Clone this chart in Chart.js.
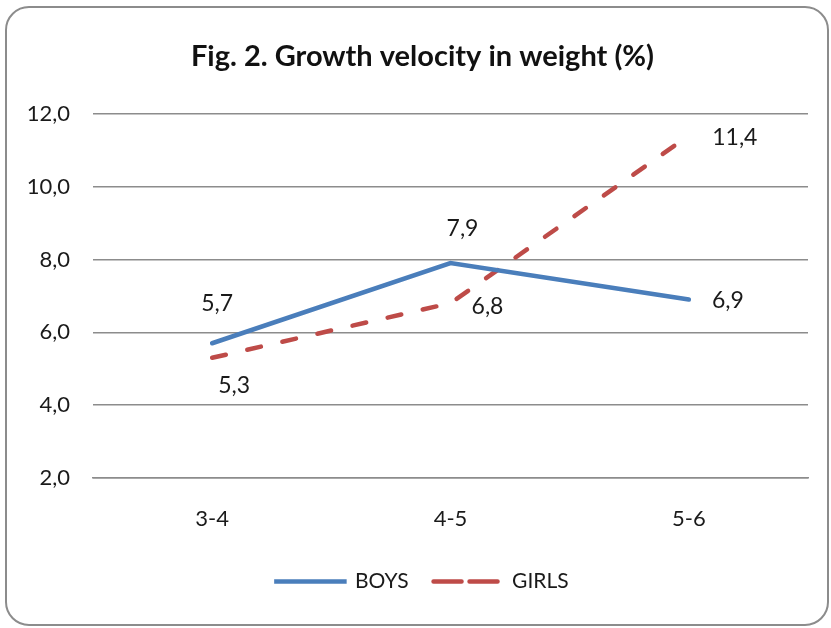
<!DOCTYPE html>
<html>
<head>
<meta charset="utf-8">
<script src="https://cdn.jsdelivr.net/npm/chart.js@4"></script>
<style>
  html, body { margin: 0; padding: 0; background: #fff; }
  #wrap { position: relative; width: 831px; height: 628px; }
  #frame {
    position: absolute; left: 5px; top: 6px; width: 820px; height: 616px;
    border: 2px solid #8c8c8c; border-radius: 24px; pointer-events: none;
  }
  canvas { position: absolute; left: 0; top: 0; }
</style>
</head>
<body>
<div id="wrap">
  <canvas id="growthChart" width="831" height="628"></canvas>
  <div id="frame"></div>
</div>
<script>
// Chart data
const categories = ['3-4', '4-5', '5-6'];
const boys = [5.7, 7.9, 6.9];
const girls = [5.3, 6.8, 11.4];
const yTicks = [2, 4, 6, 8, 10, 12];

const FONT = 'Lato, "Open Sans", sans-serif';

// simple value labels, offsets picked to sit where the original puts them
const valueLabels = {
  id: 'valueLabels',
  afterDatasetsDraw(chart, args, opts) {
    const ctx = chart.ctx;
    ctx.save();
    ctx.font = '23px ' + FONT;
    ctx.fillStyle = '#1a1a1a';
    ctx.textAlign = 'center';
    ctx.textBaseline = 'middle';
    chart.data.datasets.forEach((ds, i) => {
      const meta = chart.getDatasetMeta(i);
      meta.data.forEach((pt, j) => {
        const off = opts.offsets[i][j];
        ctx.fillText(ds.data[j].toFixed(1).replace('.', ','), pt.x + off[0], pt.y + off[1]);
      });
    });
    ctx.restore();
  }
};

const ctx = document.getElementById('growthChart').getContext('2d');
new Chart(ctx, {
  type: 'line',
  data: {
    labels: categories,
    datasets: [
      {
        label: 'BOYS',
        data: boys,
        borderColor: '#4a7ebb',
        backgroundColor: '#4a7ebb',
        borderWidth: 4.5,
        borderCapStyle: 'round',
        pointRadius: 0,
        tension: 0
      },
      {
        label: 'GIRLS',
        data: girls,
        borderColor: '#be4b48',
        backgroundColor: '#be4b48',
        borderWidth: 4.5,
        borderDash: [14, 22],
        borderCapStyle: 'round',
        pointRadius: 0,
        tension: 0
      }
    ]
  },
  options: {
    responsive: false,
    animation: false,
    layout: { padding: { left: 14, right: 0, top: 0, bottom: 26 } },
    plugins: {
      title: {
        display: true,
        text: 'Fig. 2. Growth velocity in weight (%)',
        color: '#111',
        font: { family: FONT, size: 29, weight: 'bold' },
        padding: { top: 39, bottom: 40 }
      },
      legend: {
        position: 'bottom',
        labels: {
          color: '#1a1a1a',
          font: { family: FONT, size: 21 },
          boxWidth: 68,
          boxHeight: 0.001,
          padding: 25,
          generateLabels: chart => Chart.defaults.plugins.legend.labels.generateLabels(chart)
            .map(item => Object.assign(item, { fillStyle: 'rgba(0,0,0,0)' }))
        }
      },
      tooltip: { enabled: false },
      valueLabels: {
        offsets: [
          [[5, -40], [12, -35], [39, 1]],
          [[22, 28], [37, 3], [46, 2]]
        ]
      }
    },
    scales: {
      x: {
        offset: true,
        afterFit: s => { s.height = 68; },
        grid: { display: false, drawTicks: false, offset: true },
        border: { display: true, color: '#8c8c8c', width: 1.5 },
        ticks: { color: '#1a1a1a', font: { family: FONT, size: 22 }, padding: 28 }
      },
      y: {
        min: 2,
        max: 12,
        afterFit: s => { s.width = 79; },
        afterBuildTicks: s => { s.ticks = yTicks.map(v => ({ value: v })); },
        grid: { color: '#8c8c8c', lineWidth: 1.5, drawTicks: false },
        border: { display: false },
        ticks: {
          color: '#1a1a1a',
          font: { family: FONT, size: 22 },
          padding: 23,
          callback: v => v.toFixed(1).replace('.', ',')
        }
      },
      // empty right gutter so the title and legend stay centred on the page
      yRight: {
        position: 'right',
        afterFit: s => { s.width = 23; },
        grid: { display: false, drawTicks: false },
        border: { display: false },
        ticks: { display: false }
      }
    }
  },
  plugins: [valueLabels]
});
</script>
</body>
</html>
